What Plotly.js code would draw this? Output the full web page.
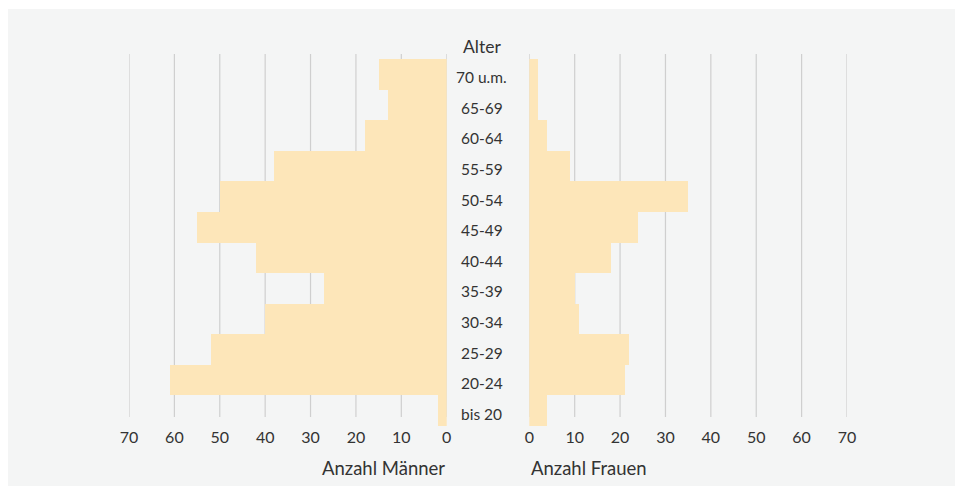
<!DOCTYPE html>
<html>
<head>
<meta charset="utf-8">
<script src="https://cdn.plot.ly/plotly-3.0.1.min.js"></script>
<style>html,body{margin:0;padding:0;background:#fff;}#chart{width:963px;height:494px;}</style>
</head>
<body>
<div id="chart"></div>
<script>
// Data
const ageGroups = ["bis 20","20-24","25-29","30-34","35-39","40-44","45-49","50-54","55-59","60-64","65-69","70 u.m."];
const maenner   = [2, 61, 52, 40, 27, 42, 55, 50, 38, 18, 13, 15];
const frauen    = [4, 21, 22, 11, 10, 18, 24, 35, 9, 4, 2, 2];
const tickVals  = [0, 10, 20, 30, 40, 50, 60, 70];
const headerLabel = "Alter";
const titleMaenner = "Anzahl Männer";
const titleFrauen = "Anzahl Frauen";

const barColor = "#fde6b9";
const gridColor = "#cfcfcf";
const textColor = "#333333";
const FONT = "Lato, 'Noto Sans', sans-serif";

const traces = [
  {type:"bar", orientation:"h", y:ageGroups, x:maenner, xaxis:"x", yaxis:"y",
   marker:{color:barColor, line:{width:0}}, hoverinfo:"x+y", showlegend:false},
  {type:"bar", orientation:"h", y:ageGroups, x:frauen, xaxis:"x2", yaxis:"y",
   marker:{color:barColor, line:{width:0}}, hoverinfo:"x+y", showlegend:false}
];

const shapes = [
  {type:"rect", xref:"paper", yref:"paper", x0:-121/718, x1:(955-129)/718, y0:(426-486)/367, y1:(426-9)/367,
   fillcolor:"#f4f5f5", line:{width:0}, layer:"below"}
];
tickVals.forEach(v => {
  ["x","x2"].forEach(ax => {
    shapes.push({type:"line", xref:ax, yref:"paper", x0:v, x1:v, y0:9/367, y1:1+5/367,
      line:{color:gridColor, width:1.2}, layer:"below"});
  });
});

const annotations = ageGroups.map(g => ({
  x:0.491, xref:"paper", y:g, yref:"y", text:g, showarrow:false, yshift:-3,
  xanchor:"center", yanchor:"middle", font:{family:FONT, size:15.5, color:textColor}
}));
annotations.push({x:0.491, xref:"paper", y:(426-46.5)/367, yref:"paper", text:headerLabel, showarrow:false,
  xanchor:"center", yanchor:"middle", font:{family:FONT, size:17.5, color:textColor}});
annotations.push({x:(446.7-129)/718, xref:"paper", y:(426-467.5)/367, yref:"paper", text:titleMaenner, showarrow:false,
  xanchor:"right", yanchor:"middle", font:{family:FONT, size:18.5, color:textColor}});
annotations.push({x:(529.3-129)/718, xref:"paper", y:(426-467.5)/367, yref:"paper", text:titleFrauen, showarrow:false,
  xanchor:"left", yanchor:"middle", font:{family:FONT, size:18.5, color:textColor}});

const axisCommon = {
  tickvals:tickVals, ticktext:tickVals.map(String), showgrid:false, zeroline:false,
  showline:false, ticks:"", tickfont:{family:FONT, size:16, color:textColor}, fixedrange:true
};

const layout = {
  width:963, height:494,
  margin:{l:129, r:116, t:59, b:68},
  paper_bgcolor:"#ffffff", plot_bgcolor:"rgba(0,0,0,0)",
  bargap:0,
  xaxis:Object.assign({}, axisCommon, {domain:[0, (446.7-129)/718], range:[70, 0], anchor:"y"}),
  xaxis2:Object.assign({}, axisCommon, {domain:[(529.3-129)/718, 1], range:[0, 70], anchor:"y"}),
  yaxis:{type:"category", categoryorder:"array", categoryarray:ageGroups, range:[-0.5, 11.5],
    showticklabels:false, showgrid:false, zeroline:false, showline:false, ticks:"", fixedrange:true},
  shapes:shapes,
  annotations:annotations,
  font:{family:FONT, color:textColor}
};

Plotly.newPlot("chart", traces, layout, {displayModeBar:false, staticPlot:true});
</script>
</body>
</html>
